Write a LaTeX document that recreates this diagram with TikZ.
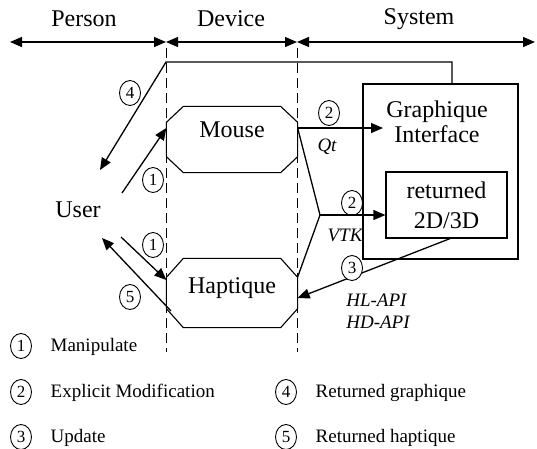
\documentclass[tikz,border=0pt]{standalone}
\usepackage{fontspec}
\setmainfont{Liberation Serif}
\usetikzlibrary{arrows.meta,shapes.geometric}
\begin{document}
\begin{tikzpicture}[x=1pt,y=-1pt,
  line width=1.3pt,
  tip/.style={-{Triangle[length=12pt,width=10pt]}},
  dtip/.style={{Triangle[length=12pt,width=10pt]}-{Triangle[length=12pt,width=10pt]}},
  lbl/.style={font=\fontsize{24}{25}\selectfont, inner sep=0pt},
  num/.style={draw, ellipse, line width=0.9pt, minimum width=21pt, minimum height=25pt, inner sep=0pt, font=\fontsize{17}{17}\selectfont},
  api/.style={font=\fontsize{19}{22}\selectfont\itshape, inner sep=0pt},
  leg/.style={font=\fontsize{19}{20}\selectfont, inner sep=0pt, anchor=west},
  vdash/.style={dash pattern=on 10pt off 5pt, line width=1pt},
  octobox/.style={minimum width=130pt, inner sep=0pt},
  sysbox/.style={draw, line width=1.2pt, inner sep=0pt}
]
\useasboundingbox (0,0) rectangle (537,448);

% top scale
\coordinate (pL) at (10,42);
\coordinate (b1) at (166,42);
\coordinate (b2) at (297,42);
\coordinate (pR) at (535,42);
\draw[dtip] (pL) -- (b1);
\draw[dtip] (b1) -- (b2);
\draw[dtip] (b2) -- (pR);
\node[lbl] (person) at (84,19) {Person};
\node[lbl] (device) at (231,19) {Device};
\node[lbl] (system) at (419,19) {System};

% dashed separators
\draw[vdash] (166,48) -- (166,352);
\draw[vdash] (297,48) -- (297,352);

% octagons
\newcommand{\octo}[3]{\draw[line width=1.1pt] ([xshift=#2]#1.north west) -- ([xshift=-#2]#1.north east) -- ([yshift=-#3]#1.north east) -- ([yshift=#3]#1.south east) -- ([xshift=-#2]#1.south east) -- ([xshift=#2]#1.south west) -- ([yshift=#3]#1.south west) -- ([yshift=-#3]#1.north west) -- cycle;}
\node[octobox, minimum height=65pt] (mouse) at (232,139.5) {};
\octo{mouse}{17pt}{16pt}
\node[lbl] (mousetxt) at (232,130) {Mouse};
\node[octobox, minimum height=68pt] (hap) at (232,293) {};
\octo{hap}{17pt}{19pt}
\node[lbl] (haptxt) at (232,288) {Haptique};

% user
\node[lbl] (user) at (78,210) {User};

% system boxes
\node[sysbox, minimum width=155pt, minimum height=175pt] (sys) at (440.5,171.5) {};
\node[lbl, align=center] (gi) at (437,122) {Graphique\\Interface};
\node[sysbox, minimum width=121pt, minimum height=66pt, font=\fontsize{24}{30}\selectfont, align=center] (ret) at (446.5,205) {returned\\2D/3D};

% connector 4
\coordinate (c4a) at (166,62);
\coordinate (u4) at (100,170);
\draw[tip] ([xshift=11.5pt]sys.north) |- (c4a) -- (u4);
\node[num, fill=white] (n4) at (130,93) {4};

% connectors 1
\coordinate (u1a) at (122,193);
\draw[tip] (u1a) -- ([yshift=11.5pt]mouse.west);
\node[num] (n1a) at (153,180) {1};
\coordinate (u1b) at (121,237);
\draw[tip] (u1b) -- ([yshift=13pt]hap.west);
\node[num] (n1b) at (153,245) {1};

% connector 5
\coordinate (h5) at (171,311);
\coordinate (u5) at (102,238);
\draw[tip] (h5) -- (u5);
\node[num] (n5) at (130,297) {5};

% Qt
\coordinate (qtend) at (383,128);
\draw[tip] ([yshift=11.5pt]mouse.east) -- (qtend);
\node[num] (n2a) at (329,113) {2};
\node[api] (qt) at (327,147) {Qt};

% VTK
\coordinate (vj) at (320,215);
\draw ([yshift=11.5pt]mouse.east) -- (vj) -- ([yshift=16pt]hap.east);
\draw[tip] (vj) -- (ret.west |- vj);
\node[num] (n2b) at (352,203) {2};
\node[api] (vtk) at (345,235) {VTK};

% update 3
\draw[tip] ([xshift=3.5pt]ret.south) -- ([yshift=-5pt]hap.east);
\node[num, fill=white] (n3) at (352,268) {3};
\node[api, align=left] (hlapi) at (378,311) {HL-API\\HD-API};

% legend
\node[num] (l1) at (21,346) {1};
\node[leg] (l1t) at (50,347) {Manipulate};
\node[num] (l2) at (21,392) {2};
\node[leg] (l2t) at (50,393) {Explicit Modification};
\node[num] (l3) at (21,437) {3};
\node[leg] (l3t) at (50,438) {Update};
\node[num] (l4) at (286,392) {4};
\node[leg] (l4t) at (315,393) {Returned graphique};
\node[num] (l5) at (286,437) {5};
\node[leg] (l5t) at (315,438) {Returned haptique};
\end{tikzpicture}
\end{document}
